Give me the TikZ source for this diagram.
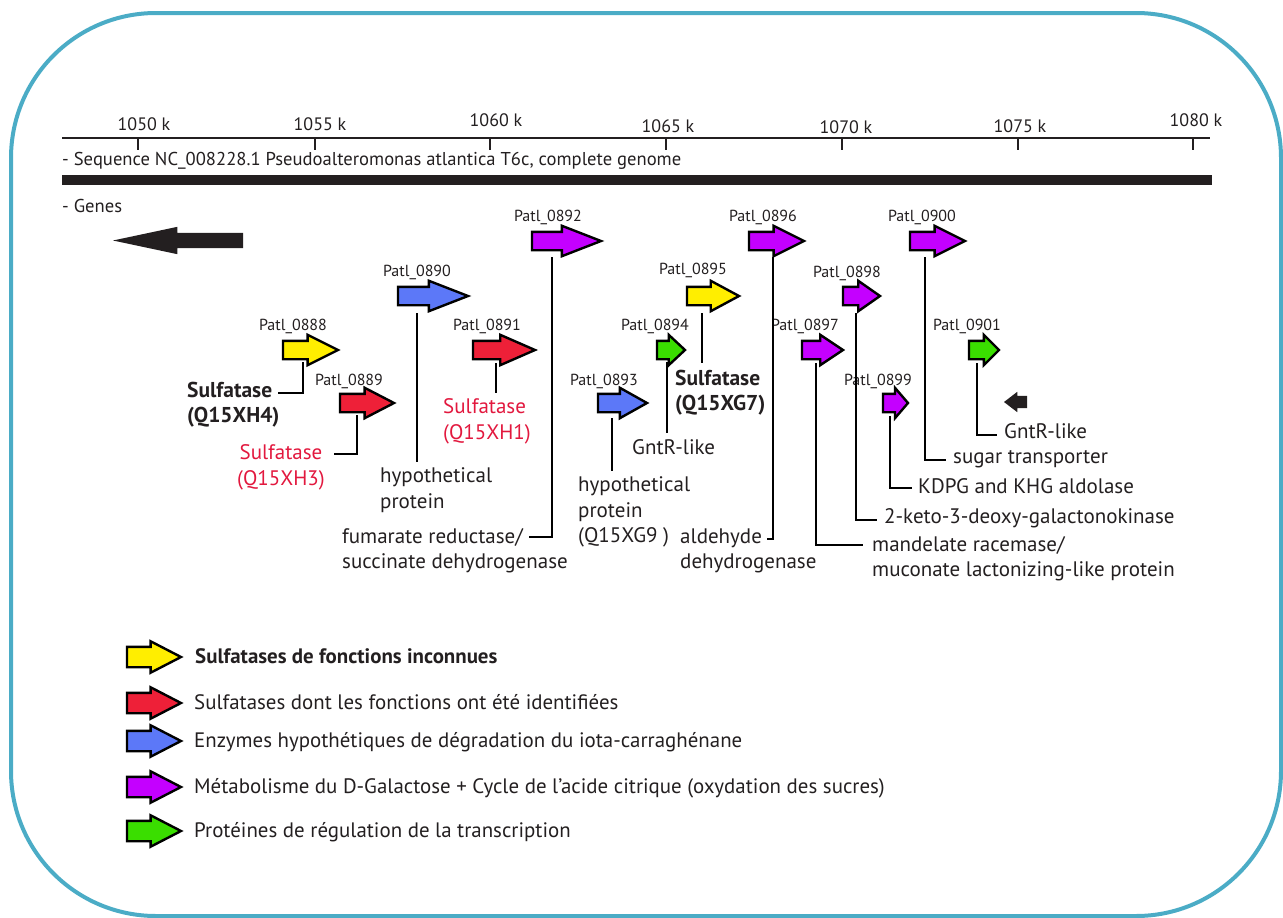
\documentclass[tikz,border=0pt]{standalone}
\usepackage{fontspec}
\setmainfont{PT Sans}
\usetikzlibrary{shapes.arrows}
\definecolor{ink}{RGB}{35,31,32}
\definecolor{gyel}{RGB}{255,238,0}
\definecolor{gred}{RGB}{238,32,56}
\definecolor{gblu}{RGB}{92,120,248}
\definecolor{gpur}{RGB}{196,0,255}
\definecolor{ggrn}{RGB}{58,222,0}
\definecolor{rtext}{RGB}{226,24,62}
\definecolor{framec}{RGB}{75,172,198}
\begin{document}
\begin{tikzpicture}[x=1pt,y=-1pt,
  gene/.style={single arrow, draw=black, line width=2.4pt, single arrow head extend=6pt,
    inner xsep=0pt, inner ysep=8pt, outer sep=0pt, anchor=tail, miter limit=10},
  blk/.style={single arrow, fill=ink, draw=none, inner xsep=0pt, outer sep=0pt, anchor=tail, shape border rotate=180},
  leg/.style={single arrow, draw=black, line width=2.4pt, single arrow head extend=5.5pt,
    inner xsep=0pt, inner ysep=9pt, minimum height=54pt, single arrow tip angle=54.7,
    outer sep=0pt, anchor=tail, miter limit=10},
  conn/.style={draw=black, line width=2.4pt},
  plab/.style={font=\fontsize{16}{19}\selectfont, inner sep=0pt, anchor=base, text=ink},
  desc/.style={font=\fontsize{21}{25}\selectfont, inner sep=0pt, anchor=base west, text=ink},
  descb/.style={desc, font=\fontsize{21.5}{25}\selectfont\bfseries},
  descr/.style={desc, text=rtext},
  ticklab/.style={font=\fontsize{18}{21}\selectfont, inner sep=0pt, anchor=base, text=ink},
  head/.style={font=\fontsize{18.6}{22}\selectfont, inner sep=0pt, anchor=base west, text=ink},
  legt/.style={font=\fontsize{20.9}{25}\selectfont, inner sep=0pt, anchor=base west, text=ink}
]
\useasboundingbox (0,0) rectangle (1283,918);
\draw[framec, line width=4pt, rounded corners=145pt] (11,13) rectangle (1281,916);

% axis
\draw[ink, line width=2pt] (62,138) -- (1210,138);
\foreach \x/\lab/\lx/\bl in {138/1050/144/130, 315/1055/320/130, 490/1060/496/126,
  666/1065/668/132, 842/1070/846/133, 1018/1075/1020/132, 1193/1080/1196/126}{
  \draw[ink, line width=2pt] (\x,138) -- (\x,150);
  \node[ticklab] (t\lab) at (\lx,\bl) {\lab\ k};
}
\node[head] (seq) at (62,165) {- Sequence NC\_008228.1 Pseudoalteromonas atlantica T6c, complete genome};
\fill[ink] (62,175) rectangle (1212,185);
\node[head] (genes) at (62,212) {- Genes};

% black arrows
\node[blk, minimum height=130pt, inner ysep=7.5pt, single arrow head extend=6pt, single arrow tip angle=24] (big) at (243,240.5) {};
\node[blk, minimum height=23pt, inner ysep=6pt, single arrow head extend=4pt, single arrow tip angle=75] (small) at (1027,402) {};

% genes
\node[gene, fill=gyel, minimum height=55pt, single arrow tip angle=53.1] (g0888) at (283,350) {};
\node[gene, fill=gred, minimum height=54pt, single arrow tip angle=54.8] (g0889) at (340,403) {};
\node[gene, fill=gblu, minimum height=70pt, single arrow tip angle=42.5] (g0890) at (398,296) {};
\node[gene, fill=gred, minimum height=62pt, single arrow tip angle=47.2] (g0891) at (473,350) {};
\node[gene, fill=gpur, minimum height=69pt, single arrow tip angle=42.5] (g0892) at (532,241) {};
\node[gene, fill=gblu, minimum height=49pt, single arrow tip angle=58.5] (g0893) at (598,403) {};
\node[gene, fill=ggrn, minimum height=28pt, single arrow tip angle=86] (g0894) at (657,350) {};
\node[gene, fill=gyel, minimum height=52pt, single arrow tip angle=56.6] (g0895) at (687,296) {};
\node[gene, fill=gpur, minimum height=55pt, single arrow tip angle=53.1] (g0896) at (749,241) {};
\node[gene, fill=gpur, minimum height=41pt, single arrow tip angle=67.4] (g0897) at (802,350) {};
\node[gene, fill=gpur, minimum height=37pt, single arrow tip angle=70] (g0898) at (843,296) {};
\node[gene, fill=gpur, minimum height=25pt, single arrow tip angle=98.8] (g0899) at (883,403) {};
\node[gene, fill=gpur, minimum height=55pt, single arrow tip angle=53.1] (g0900) at (910,241) {};
\node[gene, fill=ggrn, minimum height=30pt, single arrow tip angle=90] (g0901) at (969,350) {};

% gene ids
\node[plab] (p0888) at (293,330) {Patl\_0888};
\node[plab] (p0889) at (349,385) {Patl\_0889};
\node[plab] (p0890) at (417,276) {Patl\_0890};
\node[plab] (p0891) at (487,330) {Patl\_0891};
\node[plab] (p0892) at (548,221) {Patl\_0892};
\node[plab] (p0893) at (604,385) {Patl\_0893};
\node[plab] (p0894) at (655,330) {Patl\_0894};
\node[plab] (p0895) at (693,274) {Patl\_0895};
\node[plab] (p0896) at (763,221) {Patl\_0896};
\node[plab] (p0897) at (805,330) {Patl\_0897};
\node[plab] (p0898) at (847,277) {Patl\_0898};
\node[plab] (p0899) at (878,385) {Patl\_0899};
\node[plab] (p0900) at (922,221) {Patl\_0900};
\node[plab] (p0901) at (967,330) {Patl\_0901};

% descriptions
\node[descb] (d0888a) at (187,397) {Sulfatase};
\node[descb] (d0888b) at (187,422) {(Q15XH4)};
\node[descr, anchor=base] (d0889a) at (281,459) {Sulfatase};
\node[descr, anchor=base] (d0889b) at (281,485) {(Q15XH3)};
\node[desc] (d0890a) at (380,482) {hypothetical};
\node[desc] (d0890b) at (380,508) {protein};
\node[descr] (d0891a) at (443,413) {Sulfatase};
\node[descr] (d0891b) at (443,439) {(Q15XH1)};
\node[desc] (d0892a) at (342,543) {fumarate reductase/};
\node[desc] (d0892b) at (342,568) {succinate dehydrogenase};
\node[desc] (d0893a) at (578,491) {hypothetical};
\node[desc] (d0893b) at (578,517) {protein};
\node[desc] (d0893c) at (578,542) {(Q15XG9 )};
\node[desc] (d0894) at (632,454) {GntR-like};
\node[descb] (d0895a) at (675,385) {Sulfatase};
\node[descb] (d0895b) at (675,410) {(Q15XG7)};
\node[desc] (d0896a) at (680,543) {aldehyde};
\node[desc] (d0896b) at (680,568) {dehydrogenase};
\node[desc] (d0897a) at (872,551) {mandelate racemase/};
\node[desc] (d0897b) at (872,576) {muconate lactonizing-like protein};
\node[desc] (d0898) at (884,523) {2-keto-3-deoxy-galactonokinase};
\node[desc] (d0899) at (918,493) {KDPG and KHG aldolase};
\node[desc] (d0900) at (953,463) {sugar transporter};
\node[desc] (d0901) at (1004,438) {GntR-like};

% connectors
\coordinate (c0888) at ([shift={(20,12)}]g0888.tail);
\coordinate (c0889) at ([shift={(17,12)}]g0889.tail);
\coordinate (c0890) at ([shift={(19,17)}]g0890.tail);
\coordinate (c0891) at ([shift={(23,13)}]g0891.tail);
\coordinate (c0892) at ([shift={(20,16)}]g0892.tail);
\coordinate (c0893) at ([shift={(14,15)}]g0893.tail);
\coordinate (c0894) at ([shift={(10,12)}]g0894.tail);
\coordinate (c0895) at ([shift={(15,17)}]g0895.tail);
\coordinate (c0896) at ([shift={(24,16)}]g0896.tail);
\coordinate (c0897) at ([shift={(14,13)}]g0897.tail);
\coordinate (c0898) at ([shift={(13,17)}]g0898.tail);
\coordinate (c0899) at ([shift={(7,13)}]g0899.tail);
\coordinate (c0900) at ([shift={(15,16)}]g0900.tail);
\coordinate (c0901) at ([shift={(8,13)}]g0901.tail);

\draw[conn] (c0888) |- ([xshift=6pt,yshift=4pt]d0888a.base east);
\draw[conn] (c0889) |- ([xshift=11pt,yshift=5pt]d0889a.base east);
\draw[conn] (c0890) -- ([yshift=5pt]c0890 |- d0890a.north);
\draw[conn] (c0891) -- ([yshift=5pt]c0891 |- d0891a.north);
\draw[conn] (c0892) |- ([xshift=6pt,yshift=6pt]d0892a.base east);
\draw[conn] (c0893) -- ([yshift=5pt]c0893 |- d0893a.north);
\draw[conn] (c0894) -- ([yshift=6pt]c0894 |- d0894.north);
\draw[conn] (c0895) -- ([yshift=6pt]c0895 |- d0895a.north);
\draw[conn] (c0896) |- ([xshift=5pt,yshift=4pt]d0896a.base east);
\draw[conn] (c0897) |- ([xshift=-9pt,yshift=6pt]d0897a.base west);
\draw[conn] (c0898) |- ([xshift=-7pt,yshift=3pt]d0898.base west);
\draw[conn] (c0899) |- ([xshift=-6pt,yshift=5pt]d0899.base west);
\draw[conn] (c0900) |- ([xshift=-7pt,yshift=3pt]d0900.base west);
\draw[conn] (c0901) |- ([xshift=-7pt,yshift=3pt]d0901.base west);

% legend
\node[leg, fill=gyel] (l1) at (127,657) {};
\node[leg, fill=gred] (l2) at (127,703) {};
\node[leg, fill=gblu] (l3) at (127,741) {};
\node[leg, fill=gpur] (l4) at (127,787) {};
\node[leg, fill=ggrn] (l5) at (127,831) {};
\node[legt, font=\fontsize{20.9}{25}\selectfont\bfseries] (lt1) at (195,663) {Sulfatases de fonctions inconnues};
\node[legt] (lt2) at (194,709) {Sulfatases dont les fonctions ont été identifiées};
\node[legt] (lt3) at (194,747) {Enzymes hypothétiques de dégradation du iota-carraghénane};
\node[legt] (lt4) at (194,793) {Métabolisme du D-Galactose + Cycle de l’acide citrique (oxydation des sucres)};
\node[legt] (lt5) at (194,837) {Protéines de régulation de la transcription};
\end{tikzpicture}
\end{document}
